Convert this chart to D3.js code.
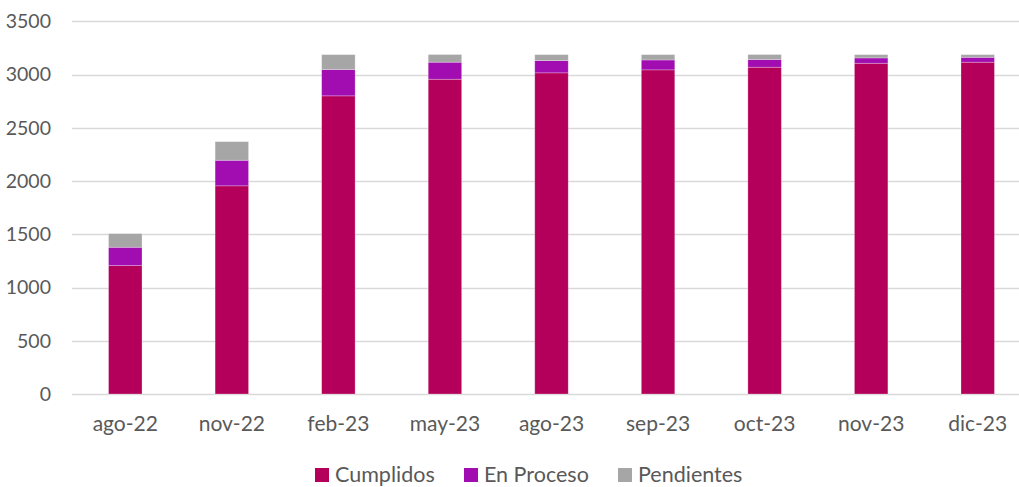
<!DOCTYPE html>
<html><head><meta charset="utf-8">
<script src="https://cdn.jsdelivr.net/npm/d3@7/dist/d3.min.js"></script>
<style>body{margin:0;background:#fff;}svg{display:block;}</style>
</head><body>
<svg id="c" width="1019" height="487"></svg>
<script>
const categories = ["ago-22","nov-22","feb-23","may-23","ago-23","sep-23","oct-23","nov-23","dic-23"];
const cumplidos  = [1206, 1955, 2800, 2956, 3016, 3044, 3069, 3106, 3116];
const enProceso  = [172, 240, 247, 160, 115, 93, 72, 50, 46];
const pendientes = [128, 175, 140, 72, 56, 50, 47, 31, 25];
const seriesNames = ["Cumplidos","En Proceso","Pendientes"];
const yTicks = [0,500,1000,1500,2000,2500,3000,3500];

const colors = ["#B5005B","#A10DB0","#A6A6A6"];
const font = "Lato, 'Open Sans', sans-serif";
const svg = d3.select("#c");
const x = d3.scaleBand().domain(categories).range([72, 1031]).paddingInner(0.686).paddingOuter(0.343);
const y = d3.scaleLinear().domain([0,3500]).range([394, 21.3]);

const table = categories.map((c,i)=>({cat:c, "Cumplidos":cumplidos[i], "En Proceso":enProceso[i], "Pendientes":pendientes[i]}));
const stack = d3.stack().keys(seriesNames)(table);

// grid
svg.append("g").selectAll("line").data(yTicks).join("line")
  .attr("x1",72).attr("x2",1031).attr("y1",d=>Math.round(y(d))+0.5).attr("y2",d=>Math.round(y(d))+0.5)
  .attr("stroke","#D9D9D9").attr("stroke-width",1.5);

// y axis labels
const ya = svg.append("g").attr("transform","translate(51,0)")
  .call(d3.axisLeft(y).tickValues(yTicks).tickFormat(d3.format("d")).tickSize(0).tickPadding(0));
ya.select(".domain").remove();
ya.selectAll("text").attr("font-family",font).attr("font-size","19.5px").attr("fill","#595959");

// bars
svg.append("g").selectAll("g").data(stack).join("g").attr("fill",(d,i)=>colors[i])
  .selectAll("rect").data(d=>d).join("rect")
  .attr("x",d=>x(d.data.cat)).attr("width",x.bandwidth())
  .attr("y",d=>y(d[1])).attr("height",d=>y(d[0])-y(d[1]))
  .attr("stroke","#fff").attr("stroke-opacity",0.35).attr("stroke-width",0.75);

// x axis
const xa = svg.append("g").attr("transform","translate(0,394)")
  .call(d3.axisBottom(x).tickSize(0).tickPadding(22));
xa.select(".domain").remove();
xa.selectAll("text").attr("font-family",font).attr("font-size","21px").attr("fill","#595959");

// legend
const legX = [315, 464, 618];
const lg = svg.append("g");
seriesNames.forEach((n,i)=>{
  lg.append("rect").attr("x",legX[i]).attr("y",468).attr("width",14).attr("height",14).attr("fill",colors[i]);
  lg.append("text").attr("x",legX[i]+20).attr("y",482).attr("font-family",font).attr("font-size","21.5px").attr("fill","#595959").text(n);
});
</script>
</body></html>
